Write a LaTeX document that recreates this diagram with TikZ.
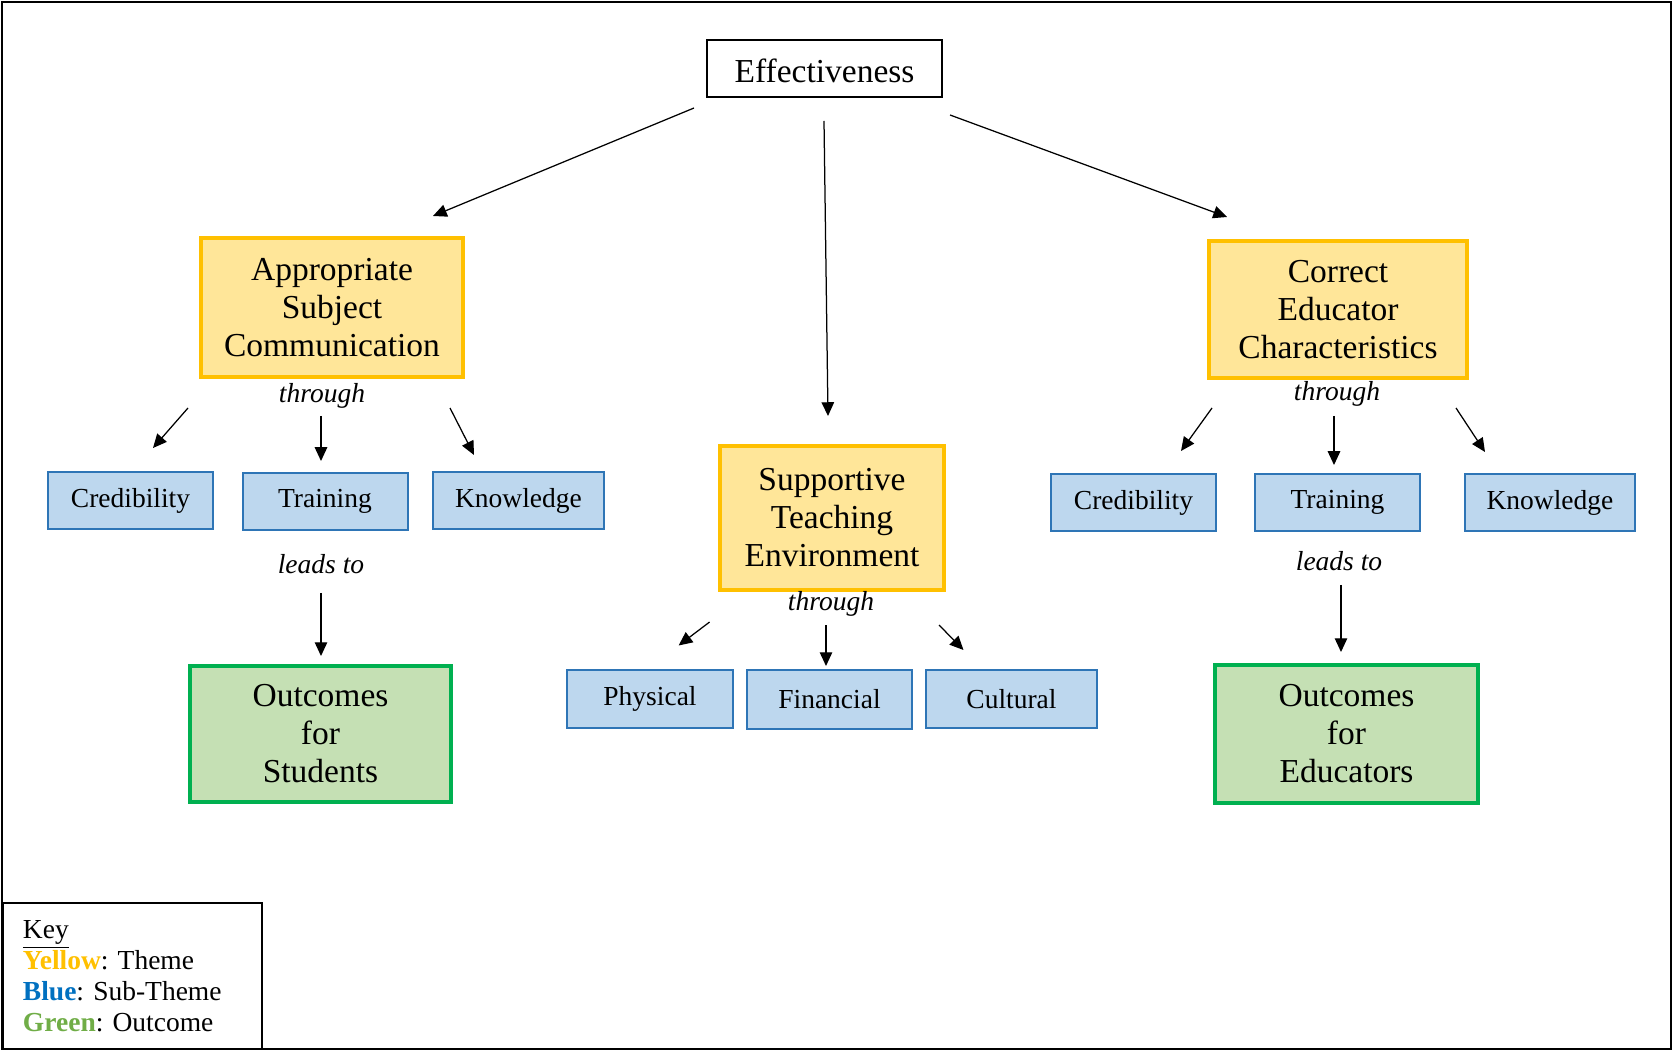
\documentclass[tikz,border=0pt]{standalone}
\usepackage{fontspec}
\setmainfont{Liberation Serif}
\usetikzlibrary{arrows.meta}
\definecolor{themeline}{HTML}{FFC000}
\definecolor{themefill}{HTML}{FFE699}
\definecolor{subline}{HTML}{2E75B6}
\definecolor{subfill}{HTML}{BDD7EE}
\definecolor{outcomeline}{HTML}{00B050}
\definecolor{outcomefill}{HTML}{C5E0B4}
\definecolor{keyyellow}{HTML}{FFC000}
\definecolor{keyblue}{HTML}{0070C0}
\definecolor{keygreen}{HTML}{70AD47}
\frenchspacing
\begin{document}
\begin{tikzpicture}[x=0.4pt,y=-0.4pt,
    theme/.style={draw=themeline,fill=themefill,line width=1.3pt,align=center,inner sep=0pt,
      font=\fontsize{13.4}{15.2}\selectfont},
    subtheme/.style={draw=subline,fill=subfill,line width=0.8pt,inner sep=0pt,
      minimum width=66pt,minimum height=22.8pt,font=\fontsize{11}{13}\selectfont},
    outcome/.style={draw=outcomeline,fill=outcomefill,line width=1.3pt,align=center,inner sep=0pt,
      font=\fontsize{13.4}{15.2}\selectfont},
    link/.style={font=\fontsize{11}{13}\selectfont\itshape},
    arr/.style={-{Triangle[length=5.5pt,width=5pt]},line width=0.5pt}]
    \useasboundingbox (0,0) rectangle (1673,1051);
    \draw [line width=0.8pt] (2,2) rectangle (1671,1049);
    \node [draw,line width=0.6pt,minimum width=94pt,minimum height=22.8pt,inner sep=0pt,text height=11pt,
      font=\fontsize{13.4}{15.2}\selectfont] (eff) at (824.5,68.5) {Effectiveness};
    \node [theme,minimum width=104.8pt,minimum height=55.6pt] (asc) at (332,307.5) {Appropriate\\Subject\\Communication};
    \node [theme,minimum width=89.6pt,minimum height=57.6pt] (ste) at (832,518) {Supportive\\Teaching\\Environment};
    \node [theme,minimum width=103.2pt,minimum height=54.8pt] (cec) at (1338,309.5) {Correct\\Educator\\Characteristics};
    \node [link] (thrL) at (322,396) {through};
    \node [link] (thrC) at (831,604) {through};
    \node [link] (thrR) at (1337,394) {through};
    \node [link] (leadL) at (321,564) {leads to};
    \node [link] (leadR) at (1339,561) {leads to};
    \node [subtheme] (credL) at (130.5,500.5) {Credibility};
    \node [subtheme] (traL) at (325,501.5) {Training};
    \node [subtheme,minimum width=68.4pt] (knoL) at (518.5,500.5) {Knowledge};
    \node [subtheme,minimum width=66.6pt,minimum height=23pt] (phy) at (650,699) {Physical};
    \node [subtheme,minimum width=66pt,minimum height=23.4pt] (fin) at (829.5,699.5) {Financial};
    \node [subtheme,minimum width=68.4pt,minimum height=23pt] (cul) at (1011.5,699) {Cultural};
    \node [subtheme] (credR) at (1133.5,502.5) {Credibility};
    \node [subtheme] (traR) at (1337.5,502.5) {Training};
    \node [subtheme,minimum width=68pt] (knoR) at (1550,502.5) {Knowledge};
    \node [outcome,minimum width=104.4pt,minimum height=54.4pt] (outS) at (320.5,734) {Outcomes\\for\\Students};
    \node [outcome,minimum width=105.2pt,minimum height=55.2pt] (outE) at (1346.5,734) {Outcomes\\for\\Educators};
    \node [draw,line width=0.8pt,minimum width=103.6pt,minimum height=58.4pt,text width=87.6pt,
      inner xsep=8pt,inner ysep=0pt,align=left,font=\fontsize{11}{12.4}\selectfont] (key) at (132.5,976)
      {\underline{Key}\\\textbf{\color{keyyellow}Yellow}: Theme\\\textbf{\color{keyblue}Blue}: Sub-Theme\\\textbf{\color{keygreen}Green}: Outcome};
    \coordinate (effL) at (694,108);
    \coordinate (effC) at (824,121);
    \coordinate (effR) at (950,115);
    \coordinate (ascT) at (433,216);
    \coordinate (steT) at (828,416);
    \coordinate (cecT) at (1227,217);
    \draw [arr] (effL) -- (ascT);
    \draw [arr] (effC) -- (steT);
    \draw [arr] (effR) -- (cecT);
    \coordinate (thrL1) at (188,408);
    \coordinate (thrL2) at (321,416);
    \coordinate (thrL3) at (450,408);
    \coordinate (credLT) at (153,448);
    \coordinate (traLT) at (321,461);
    \coordinate (knoLT) at (474,455);
    \draw [arr] (thrL1) -- (credLT);
    \draw [arr] (thrL2) -- (traLT);
    \draw [arr] (thrL3) -- (knoLT);
    \coordinate (leadL1) at (321,593);
    \coordinate (outST) at (321,656);
    \draw [arr] (leadL1) -- (outST);
    \coordinate (thrC1) at (709.6,622);
    \coordinate (thrC2) at (826,625);
    \coordinate (thrC3) at (939,625);
    \coordinate (phyT) at (678.6,645.5);
    \coordinate (finT) at (826,666);
    \coordinate (culT) at (963.5,650);
    \draw [arr] (thrC1) -- (phyT);
    \draw [arr] (thrC2) -- (finT);
    \draw [arr] (thrC3) -- (culT);
    \coordinate (thrR1) at (1212,408);
    \coordinate (thrR2) at (1334,416);
    \coordinate (thrR3) at (1456,408);
    \coordinate (credRT) at (1181,451);
    \coordinate (traRT) at (1334,465);
    \coordinate (knoRT) at (1485,452);
    \draw [arr] (thrR1) -- (credRT);
    \draw [arr] (thrR2) -- (traRT);
    \draw [arr] (thrR3) -- (knoRT);
    \coordinate (leadR1) at (1341,585);
    \coordinate (outET) at (1341,652);
    \draw [arr] (leadR1) -- (outET);
\end{tikzpicture}
\end{document}
